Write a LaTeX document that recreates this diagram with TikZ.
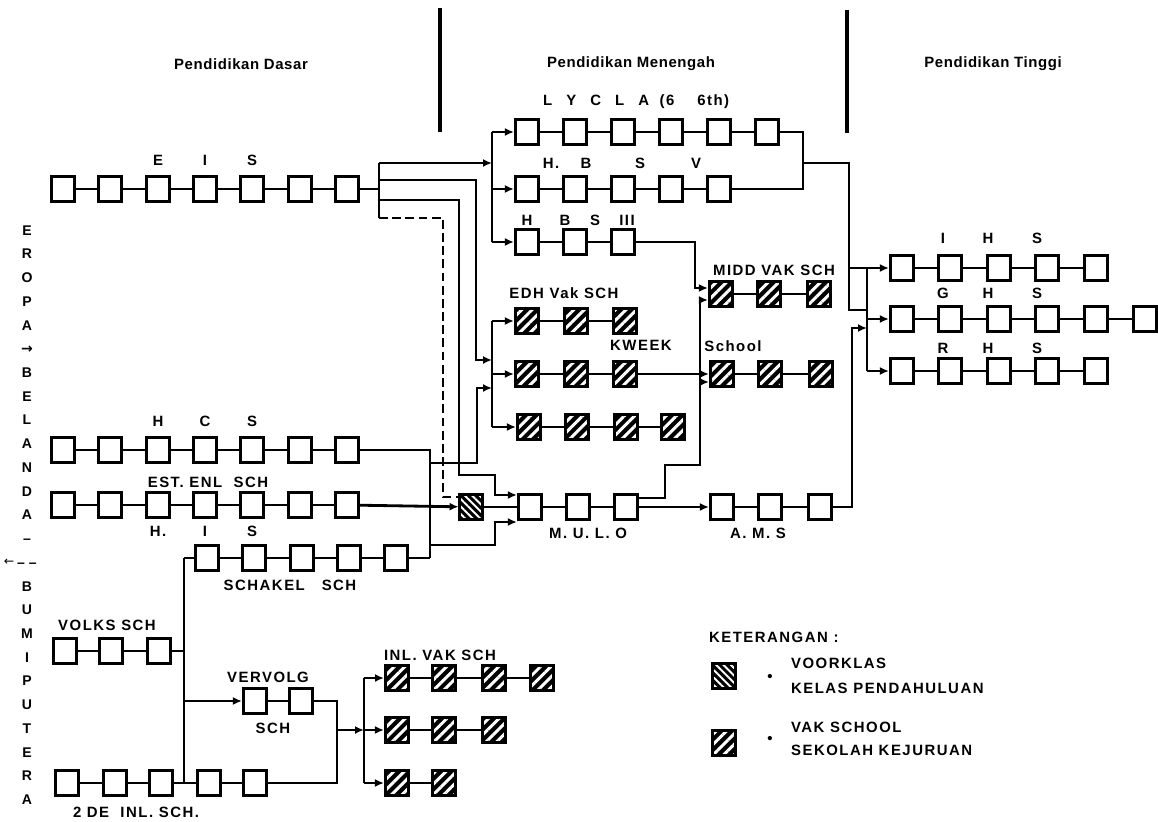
\documentclass[tikz,border=0pt]{standalone}
\usepackage{fontspec}
\setmainfont{Liberation Sans}
\newfontfamily\arrowfont{DejaVu Sans}
\usetikzlibrary{arrows.meta, positioning, calc, patterns.meta}

\begin{document}
\begin{tikzpicture}[
    x=0.02cm, y=-0.02cm,
    box/.style={rectangle, draw=black, line width=1.8pt, minimum width=0.46cm, minimum height=0.5cm, inner sep=0pt},
    vakbox/.style={box, preaction={fill=black}, pattern={Lines[angle=45, distance=4.2pt, line width=1.7pt]}, pattern color=white},
    voorbox/.style={box, preaction={fill=black}, pattern={Lines[angle=-45, distance=3pt, line width=1.1pt]}, pattern color=white},
    link/.style={line width=1.6pt, draw=black},
    thinlink/.style={line width=1pt, draw=black},
    arrow/.style={link, -{Latex[length=1.8mm, width=1.6mm]}},
    lbl/.style={font=\bfseries\fontsize{8.5}{10}\selectfont\addfontfeature{LetterSpace=10}, inner sep=1pt},
    head/.style={font=\bfseries\fontsize{8.5}{10}\selectfont\addfontfeature{LetterSpace=4}},
    side/.style={font=\bfseries\fontsize{8}{13.5}\selectfont, align=center, inner sep=0pt}
]
\useasboundingbox (0,0) rectangle (1158,821);
\fill[white] (0,0) rectangle (1158,821);

% Headers and dividers
\node[head] (hdasar) at (241,64) {Pendidikan Dasar};
\node[head] (hmenengah) at (631,64) {Pendidikan Menengah};
\node[head] (htinggi) at (993,64) {Pendidikan Tinggi};
\draw[line width=1.8pt] (440,8) -- (440,132);
\draw[line width=1.8pt] (847,10) -- (847,133);

% Side text
\node[side] (sidetxt) at (27,515) {E\\R\\O\\P\\A\\{\arrowfont →}\\B\\E\\L\\A\\N\\D\\A\\--\\-- --\\B\\U\\M\\I\\P\\U\\T\\E\\R\\A};
\node[font=\arrowfont\fontsize{7}{8}\selectfont] (sidearr) at (9,562) {←};

% Pendidikan Dasar rows
\foreach \i/\x in {1/63,2/110,3/158,4/205,5/252,6/300,7/347} {
  \node[box] (els\i) at (\x,189) {};
  \node[box] (hcs\i) at (\x,450) {};
  \node[box] (his\i) at (\x,505) {};
}
\foreach \a [count=\b from 2] in {1,...,6} {
  \draw[link] (els\a) -- (els\b);
  \draw[link] (hcs\a) -- (hcs\b);
  \draw[link] (his\a) -- (his\b);
}
\foreach \i/\x in {1/207,2/254,3/302,4/349,5/396} \node[box] (schk\i) at (\x,558) {};
\foreach \a [count=\b from 2] in {1,...,4} \draw[link] (schk\a) -- (schk\b);
\foreach \i/\x in {1/65,2/111,3/159} \node[box] (volks\i) at (\x,651) {};
\foreach \a [count=\b from 2] in {1,2} \draw[link] (volks\a) -- (volks\b);
\foreach \i/\x in {1/67,2/115,3/161,4/209,5/255} \node[box] (tde\i) at (\x,783) {};
\foreach \a [count=\b from 2] in {1,...,4} \draw[link] (tde\a) -- (tde\b);
\foreach \i/\x in {1/255,2/301} \node[box] (verv\i) at (\x,701) {};
\draw[link] (verv1) -- (verv2);

% Inlandsche vakscholen
\foreach \i/\x in {1/397,2/444,3/494,4/542} \node[vakbox] (inla\i) at (\x,678) {};
\foreach \i/\x in {1/397,2/444,3/494} \node[vakbox] (inlb\i) at (\x,730) {};
\foreach \i/\x in {1/397,2/444} \node[vakbox] (inlc\i) at (\x,783) {};
\foreach \a [count=\b from 2] in {1,...,3} \draw[thinlink] (inla\a) -- (inla\b);
\foreach \a [count=\b from 2] in {1,2} \draw[thinlink] (inlb\a) -- (inlb\b);
\draw[thinlink] (inlc1) -- (inlc2);

% Pendidikan Menengah rows
\foreach \i/\x in {1/527,2/575,3/623,4/671,5/719,6/767} \node[box] (lyc\i) at (\x,132) {};
\foreach \i/\x in {1/527,2/575,3/623,4/671,5/719} \node[box] (hbsv\i) at (\x,189) {};
\foreach \i/\x in {1/527,2/575,3/623} \node[box] (hbs\i) at (\x,242) {};
\foreach \a [count=\b from 2] in {1,...,5} \draw[link] (lyc\a) -- (lyc\b);
\foreach \a [count=\b from 2] in {1,...,4} \draw[link] (hbsv\a) -- (hbsv\b);
\foreach \a [count=\b from 2] in {1,2} \draw[link] (hbs\a) -- (hbs\b);
\foreach \i/\x in {1/527,2/576,3/625} {
  \node[vakbox] (edh\i) at (\x,321) {};
  \node[vakbox] (kwk\i) at (\x,374) {};
}
\foreach \i/\x in {1/529,2/577,3/626,4/673} \node[vakbox] (vak\i) at (\x,427) {};
\foreach \i/\x in {1/530,2/578,3/626} \node[box] (mulo\i) at (\x,507) {};
\foreach \i/\x in {1/722,2/770,3/820} \node[box] (ams\i) at (\x,507) {};
\foreach \i/\x in {1/721,2/769,3/819} \node[vakbox] (mod\i) at (\x,294) {};
\foreach \i/\x in {1/722,2/770,3/821} \node[vakbox] (sch\i) at (\x,374) {};
\node[voorbox] (voor) at (471,507) {};
\foreach \a [count=\b from 2] in {1,2} {
  \draw[thinlink] (edh\a) -- (edh\b);
  \draw[thinlink] (kwk\a) -- (kwk\b);
  \draw[thinlink] (mod\a) -- (mod\b);
  \draw[thinlink] (sch\a) -- (sch\b);
  \draw[link] (mulo\a) -- (mulo\b);
  \draw[link] (ams\a) -- (ams\b);
}
\foreach \a [count=\b from 2] in {1,...,3} \draw[thinlink] (vak\a) -- (vak\b);

% Pendidikan Tinggi rows
\foreach \i/\x in {1/902,2/950,3/999,4/1047,5/1096} {
  \node[box] (ihs\i) at (\x,268) {};
  \node[box] (ghs\i) at (\x,319) {};
  \node[box] (rhs\i) at (\x,371) {};
}
\node[box] (ghs6) at (1145,319) {};
\foreach \a [count=\b from 2] in {1,...,4} {
  \draw[link] (ihs\a) -- (ihs\b);
  \draw[link] (ghs\a) -- (ghs\b);
  \draw[link] (rhs\a) -- (rhs\b);
}
\draw[link] (ghs5) -- (ghs6);

% Row labels
\foreach \i/\t in {3/E,4/I,5/S} \node[lbl, above=4pt of els\i] (elsl\i) {\t};
\foreach \i/\t in {3/H,4/C,5/S} \node[lbl, above=4pt of hcs\i] (hcsl\i) {\t};
\foreach \i/\t in {3/H.,4/I,5/S} \node[lbl, below=3pt of his\i] (hisl\i) {\t};
\node[lbl] (estl) at (208,482) {EST.\ ENL\ \ SCH};
\node[lbl] (schkl) at (290,585) {SCHAKEL\ \ \ SCH};
\node[lbl] (volksl) at (107,625) {VOLKS SCH};
\node[lbl] (vervl) at (268,677) {VERVOLG};
\node[lbl] (vervl2) at (273,728) {SCH};
\node[lbl] (tdel) at (136,812) {2 DE\ \ INL. SCH.};
\node[lbl] (inll) at (440,655) {INL.\ VAK SCH};
\node[lbl, anchor=west] (lycl) at (541,102) {L\hspace{8pt}Y\hspace{8pt}C\hspace{8pt}L\hspace{8pt}A\hspace{6pt}(6\hspace{13pt}6th)};
\foreach \t/\x in {H./551,B/586,S/640,V/696} \node[lbl] (hbsvl\x) at (\x,163) {\t};
\foreach \t/\x in {H/527,B/565,S/595,III/627} \node[lbl] (hbsl\x) at (\x,220) {\t};
\node[lbl] (edhl) at (564,293) {EDH\ Vak SCH};
\node[lbl] (kwkl) at (641,345) {KWEEK};
\node[lbl] (modl) at (774,270) {MIDD\ VAK SCH};
\node[lbl] (schl) at (733,346) {School};
\node[lbl] (mulol) at (588,533) {M.\ U.\ L.\ O};
\node[lbl] (amsl) at (758,533) {A.\ M.\ S};
\foreach \t/\x in {I/943,H/988,S/1037} \node[lbl] (ihsl\x) at (\x,238) {\t};
\foreach \t/\x in {G/943,H/988,S/1037} \node[lbl] (ghsl\x) at (\x,293) {\t};
\foreach \t/\x in {R/943,H/988,S/1037} \node[lbl] (rhsl\x) at (\x,348) {\t};

% ELS outflow
\coordinate (jela) at (379,163);
\coordinate (jelb) at (379,180);
\coordinate (jelc) at (379,200);
\coordinate (jeld) at (379,218);
\coordinate (busM) at (492,163);
\coordinate (busE) at (492,360);
\draw[link] (els7) -- (els7 -| jela);
\draw[link] (jela) -- (jeld);
\draw[arrow] (jela) -- (busM);
\draw[link] (lyc1.west -| busM) -- (hbs1.west -| busM);
\draw[arrow] (lyc1.west -| busM) -- (lyc1);
\draw[arrow] (hbsv1.west -| busM) -- (hbsv1);
\draw[arrow] (hbs1.west -| busM) -- (hbs1);
\draw[arrow] (jelb) -| (476,360) -- (busE);
\draw[arrow] (jelc) -| (459,475) -| (495,495) -- ($(mulo1.west)+(0,-12)$);
\draw[link, dash pattern=on 5pt off 2.5pt] (jeld) -| (443,497) -- ($(voor.west)+(0,-10)$);

% EDH / KWEEK bus
\draw[link] (edh1.west -| busE) -- (vak1.west -| busE);
\draw[arrow] (edh1.west -| busE) -- (edh1);
\draw[arrow] (kwk1.west -| busE) -- (kwk1);
\draw[arrow] (vak1.west -| busE) -- (vak1);

% HCS, H.I.S. and Schakel outflow
\coordinate (jhcs) at (430,450);
\coordinate (jschk) at (430,558);
\draw[link] (hcs7) -- (jhcs) -- (jschk);
\draw[link] (schk5) -- (jschk);
\draw[arrow] (430,463) -| (477,388) -- (492,388);
\draw[arrow] (430,545) -| (495,522) -- ($(mulo1.west)+(0,15)$);
\draw[arrow] (his7) -- (voor);
\draw[link] (voor) -- (mulo1);

% Volks and 2de Inl. school bus
\coordinate (busVt) at (184,558);
\coordinate (busVb) at (184,783);
\draw[link] (busVt) -- (busVb);
\draw[link] (busVt) -- (schk1);
\draw[link] (volks3) -- (volks3 -| busVt);
\draw[arrow] (verv1 -| busVt) -- (verv1);

% Vervolg and 2de Inl. to Inl. vakscholen
\coordinate (jverv) at (337,730);
\coordinate (busI) at (364,730);
\draw[link] (verv2) -| (jverv);
\draw[link] (tde5) -| (jverv);
\draw[arrow] (jverv) -- (busI);
\draw[link] (inla1.west -| busI) -- (inlc1.west -| busI);
\draw[arrow] (inla1.west -| busI) -- (inla1);
\draw[arrow] (inlb1.west -| busI) -- (inlb1);
\draw[arrow] (inlc1.west -| busI) -- (inlc1);

% Into middelbare vakscholen
\draw[arrow] (hbs3) -| (695,288) -- ($(mod1.west)+(0,-6)$);
\draw[arrow] (kwk3) -- (sch1);
\draw[arrow] ($(mulo3.east)+(0,-9)$) -| (665,465) -| (700,300) -- ($(mod1.west)+(0,6)$);
\draw[arrow] (700,382) -- ($(sch1.west)+(0,8)$);
\draw[arrow] (mulo3) -- (ams1);

% Into Pendidikan Tinggi
\coordinate (jlyc) at (803,163);
\coordinate (busT) at (867,310);
\draw[link] (lyc6) -| (jlyc);
\draw[link] (hbsv5) -| (jlyc);
\draw[link] (jlyc) -| (849,310) -- (busT);
\draw[arrow] (849,268) -- (ihs1);
\draw[link] (ihs1 -| busT) -- (rhs1 -| busT);
\draw[arrow] (ghs1 -| busT) -- (ghs1);
\draw[arrow] (rhs1 -| busT) -- (rhs1);
\draw[arrow] (ams3) -| (852,328) -- (867,328);

% Keterangan
\node[lbl, anchor=west] (ket) at (707,637) {KETERANGAN :};
\node[voorbox] (legvoor) at (724,676) {};
\node[vakbox] (legvak) at (724,743) {};
\node[lbl] (legdot1) at (770,678) {\textbullet};
\node[lbl] (legdot2) at (770,740) {\textbullet};
\node[lbl, anchor=west] (legvoor1) at (789,663) {VOORKLAS};
\node[lbl, anchor=west] (legvoor2) at (789,688) {KELAS PENDAHULUAN};
\node[lbl, anchor=west] (legvak1) at (789,727) {VAK SCHOOL};
\node[lbl, anchor=west] (legvak2) at (789,750) {SEKOLAH KEJURUAN};
\end{tikzpicture}
\end{document}
